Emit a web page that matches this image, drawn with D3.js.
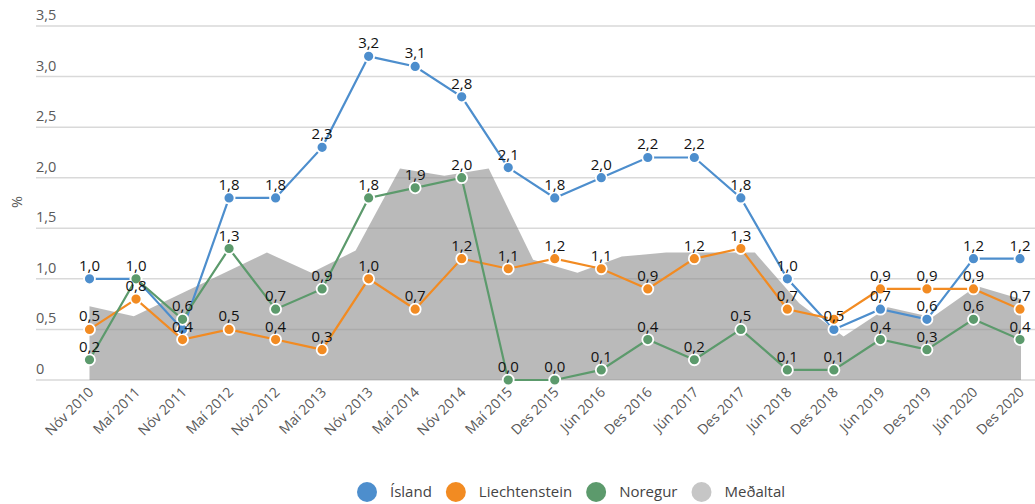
<!DOCTYPE html>
<html>
<head>
<meta charset="utf-8">
<script src="https://cdn.jsdelivr.net/npm/d3@7"></script>
<style>
  body { margin: 0; background: #fff; }
  svg { font-family: "Open Sans", "Noto Sans", sans-serif; }
</style>
</head>
<body>
<svg class="chart"></svg>
<script>
var categories = ["Nóv 2010", "Maí 2011", "Nóv 2011", "Maí 2012", "Nóv 2012", "Maí 2013", "Nóv 2013",
    "Maí 2014", "Nóv 2014", "Maí 2015", "Des 2015", "Jún 2016", "Des 2016", "Jún 2017", "Des 2017",
    "Jún 2018", "Des 2018", "Jún 2019", "Des 2019", "Jún 2020", "Des 2020"];

var island = [1.0, 1.0, 0.5, 1.8, 1.8, 2.3, 3.2, 3.1, 2.8, 2.1, 1.8, 2.0, 2.2, 2.2, 1.8, 1.0, 0.5, 0.7, 0.6, 1.2, 1.2];
var liechtenstein = [0.5, 0.8, 0.4, 0.5, 0.4, 0.3, 1.0, 0.7, 1.2, 1.1, 1.2, 1.1, 0.9, 1.2, 1.3, 0.7, 0.6, 0.9, 0.9, 0.9, 0.7];
var noregur = [0.2, 1.0, 0.6, 1.3, 0.7, 0.9, 1.8, 1.9, 2.0, 0.0, 0.0, 0.1, 0.4, 0.2, 0.5, 0.1, 0.1, 0.4, 0.3, 0.6, 0.4];

// Meðaltal has its own (finer) point spacing
var medaltal = [0.73, 0.63, 0.84, 1.05, 1.26, 1.06, 1.28, 2.09, 2.02, 2.09, 1.19, 1.06, 1.22, 1.26, 1.26, 1.26,
    0.76, 0.43, 0.72, 0.62, 0.93, 0.8];

var yTicks = [0, 0.5, 1.0, 1.5, 2.0, 2.5, 3.0, 3.5];

// labels the original hides because they collide
var hiddenLabels = {"Ísland": [1, 2], "Liechtenstein": [16], "Noregur": []};

var series = [
    {name: "Ísland", values: island, color: "#4d8ecd"},
    {name: "Liechtenstein", values: liechtenstein, color: "#f28b22"},
    {name: "Noregur", values: noregur, color: "#5c9a6c"}
];

var width = 1035, height = 504;
var svg = d3.select(".chart").attr("width", width).attr("height", height);

var x = d3.scalePoint().domain(categories).range([89.5, 1020]);
var xMean = d3.scalePoint().domain(d3.range(medaltal.length)).range([89.5, 1021]);
var y = d3.scaleLinear().domain([0, 3.5]).range([380, 26]);

var fmt = function(v) { return v === 0 ? "0" : d3.format(".1f")(v).replace(".", ","); };
var fmtLabel = function(v) { return d3.format(".1f")(v).replace(".", ","); };

// grid
svg.append("g").selectAll("line")
    .data(yTicks)
    .enter().append("line")
    .attr("x1", 36).attr("x2", width)
    .attr("y1", function(d) { return y(d); })
    .attr("y2", function(d) { return y(d); })
    .attr("stroke", "#d9d9d9")
    .attr("stroke-width", 1.5);

svg.append("g").selectAll("text")
    .data(yTicks)
    .enter().append("text")
    .attr("x", 36)
    .attr("y", function(d) { return y(d) - 6; })
    .attr("fill", "#595959")
    .attr("font-size", 14.5)
    .text(fmt);

svg.append("text")
    .attr("transform", "translate(22,202) rotate(-90)")
    .attr("text-anchor", "middle")
    .attr("fill", "#595959")
    .attr("font-size", 14.5)
    .text("%");

// mean area
var area = d3.area()
    .x(function(d, i) { return xMean(i); })
    .y0(y(0))
    .y1(function(d) { return y(d); });

svg.append("path")
    .datum(medaltal)
    .attr("d", area)
    .attr("fill", "#8c8c8c")
    .attr("fill-opacity", 0.6);

// x labels
svg.append("g").selectAll("text")
    .data(categories)
    .enter().append("text")
    .attr("transform", function(d) { return "translate(" + (x(d) + 5) + ",393) rotate(-45)"; })
    .attr("text-anchor", "end")
    .attr("fill", "#595959")
    .attr("font-size", 14)
    .text(function(d) { return d; });

// lines and markers
var line = d3.line()
    .x(function(d, i) { return x(categories[i]); })
    .y(function(d) { return y(d); });

series.forEach(function(s) {
    var g = svg.append("g");
    g.append("path")
        .datum(s.values)
        .attr("d", line)
        .attr("fill", "none")
        .attr("stroke", s.color)
        .attr("stroke-width", 2.2);
    g.selectAll("circle")
        .data(s.values)
        .enter().append("circle")
        .attr("cx", function(d, i) { return x(categories[i]); })
        .attr("cy", function(d) { return y(d); })
        .attr("r", 5.5)
        .attr("fill", s.color)
        .attr("stroke", "#fff")
        .attr("stroke-width", 1.8);
});

// data labels on top
series.forEach(function(s) {
    var hide = hiddenLabels[s.name];
    var pts = s.values
        .map(function(v, i) { return {v: v, cat: categories[i], i: i}; })
        .filter(function(p) { return hide.indexOf(p.i) < 0; });
    svg.append("g").selectAll("text")
        .data(pts)
        .enter().append("text")
        .attr("x", function(p) { return x(p.cat); })
        .attr("y", function(p) { return y(p.v) - 8; })
        .attr("text-anchor", "middle")
        .attr("fill", "#111")
        .attr("font-size", 15)
        .text(function(p) { return fmtLabel(p.v); });
});

// legend
var legendItems = series.map(function(s) { return {name: s.name, color: s.color}; });
legendItems.push({name: "Meðaltal", color: "#c6c6c6"});

var lx = 367;
var legend = svg.append("g");
legendItems.forEach(function(item) {
    legend.append("circle")
        .attr("cx", lx).attr("cy", 492).attr("r", 10)
        .attr("fill", item.color);
    var t = legend.append("text")
        .attr("x", lx + 23).attr("y", 497)
        .attr("fill", "#444")
        .attr("font-size", 15)
        .text(item.name);
    lx += 23 + t.node().getComputedTextLength() + 24;
});
</script>
</body>
</html>
